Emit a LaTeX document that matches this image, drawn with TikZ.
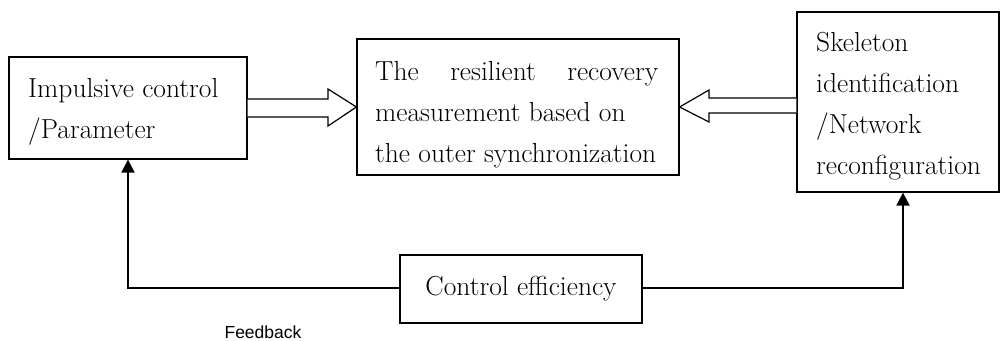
\documentclass[tikz,border=0pt]{standalone}
\usepackage{fontspec}
\newfontfamily\arialfont{Liberation Sans}
\usetikzlibrary{arrows.meta}
\begin{document}
\begin{tikzpicture}[x=1pt,y=-1pt,
  box/.style={draw,line width=1.2pt,inner sep=0pt},
  txt/.style={inner sep=0pt,align=left,font=\fontsize{27.5}{41}\selectfont},
  hollow/.style={draw,line width=1.2pt,fill=white,line join=miter},
  fb/.style={line width=1.8pt,-{Triangle[length=13pt,width=13pt]}}]
\useasboundingbox (0,0) rectangle (1001,340);
% boxes
\node[box,minimum width=238pt,minimum height=102pt] (L) at (128,108) {};
\node[box,minimum width=322pt,minimum height=136pt] (M) at (518,107) {};
\node[box,minimum width=202pt,minimum height=180pt] (R) at (898,102) {};
\node[box,minimum width=242pt,minimum height=68pt,font=\fontsize{27.5}{41}\selectfont] (C) at (521,289) {Control efficiency};
% texts (base anchor = baseline of last line)
\node[txt,anchor=base west] (Lt) at (28,138) {Impulsive control\\/Parameter};
\node[txt,anchor=base west] (Mt) at (375,162) {\hbox to 283pt{The\hfill resilient\hfill recovery}\\measurement based on\\the outer synchronization};
\node[txt,anchor=base west] (Rt) at (816,174) {Skeleton\\identification\\/Network\\reconfiguration};
\node[inner sep=0pt,anchor=base,font=\arialfont\fontsize{17.5}{20}\selectfont] (F) at (263,338) {Feedback};
% hollow block arrows
\draw[hollow] (L.east |- 0,99) -- (328,99) -- (328,89) -- (M.west) -- (328,126) -- (328,117) -- (L.east |- 0,117);
\draw[hollow] (R.west |- 0,98) -- (709,98) -- (709,90) -- (M.east) -- (709,122) -- (709,113) -- (R.west |- 0,113);
% feedback connectors
\coordinate (c1) at (128,288);
\coordinate (c2) at (903,288);
\draw[fb] (C.west |- c1) -- (c1) -- (c1 |- L.south);
\draw[fb] (C.east |- c2) -- (c2) -- (c2 |- R.south);
\end{tikzpicture}
\end{document}
